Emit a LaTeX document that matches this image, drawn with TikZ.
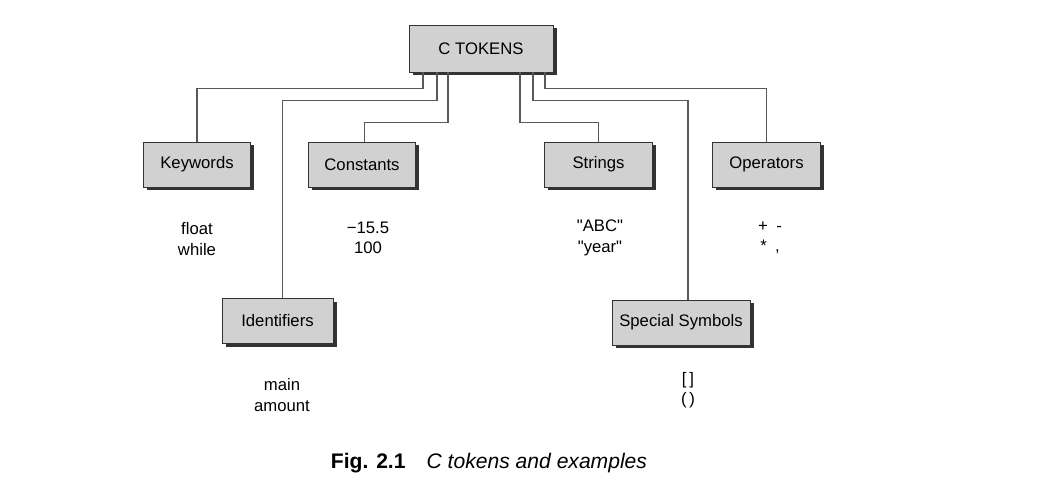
\documentclass[tikz,border=0pt]{standalone}
\usepackage{fontspec}
\setmainfont{Liberation Sans}
\usepackage{tikz}
\usetikzlibrary{shadows, positioning}
\newcommand{\dq}{\XeTeXglyph\XeTeXcharglyph"0022\relax}

\begin{document}
\begin{tikzpicture}[
  tokbox/.style={rectangle, draw=black!80, fill=black!18,
                 minimum width=2.15cm, minimum height=0.9cm,
                 font=\fontsize{9.5}{11}\selectfont,
                 drop shadow={shadow xshift=0.07cm, shadow yshift=-0.07cm,
                              fill=black!80, opacity=1}},
  example/.style={align=center, font=\fontsize{9.5}{11.5}\selectfont},
  link/.style={draw=black!65, line width=0.7pt}
]
  \useasboundingbox (0,0) rectangle (21.24,-10);

  \node[tokbox, minimum width=2.88cm, minimum height=0.94cm] (tok) at (9.62,-0.97) {C TOKENS};

  \node[tokbox] (kw)  at (3.94,-3.29) {Keywords};
  \node[tokbox] (con) at (7.24,-3.29) {Constants};
  \node[tokbox] (str) at (11.97,-3.29) {Strings};
  \node[tokbox] (op)  at (15.33,-3.29) {Operators};
  \node[tokbox, minimum width=2.22cm] (id)  at (5.55,-6.42) {Identifiers};
  \node[tokbox, minimum width=2.76cm] (sym) at (13.62,-6.45) {Special Symbols};

  \node[example] (kwex)  at (3.94,-4.78) {float\\while};
  \node[example] (conex) at (7.36,-4.76) {−15.5\\100};
  \node[example] (strex) at (12.0,-4.76) {\dq ABC\dq\\\dq year\dq};
  \node[example] (opex)  at (15.4,-4.76) {+\enspace -\\*\enspace ,};
  \node[example] (idex)  at (5.64,-7.9) {main\\amount};
  \node[example] (symex) at (13.76,-7.8) {[\,]\\(\,)};

  \draw[link] ([xshift=-1.16cm]tok.south) -- ++(0,-0.32) -| (kw.north);
  \draw[link] ([xshift=-0.88cm]tok.south) -- ++(0,-0.56) -| ([xshift=0.1cm]id.north);
  \draw[link] ([xshift=-0.66cm]tok.south) -- ++(0,-1.0) -| ([xshift=0.05cm]con.north);
  \draw[link] ([xshift=0.78cm]tok.south) -- ++(0,-1.0) -| (str.north);
  \draw[link] ([xshift=1.04cm]tok.south) -- ++(0,-0.56) -| ([xshift=0.14cm]sym.north);
  \draw[link] ([xshift=1.28cm]tok.south) -- ++(0,-0.32) -| (op.north);

  \node[font=\fontsize{12}{14}\selectfont] (cap) at (9.78,-9.26)
    {\textbf{Fig. 2.1}\quad\textit{C tokens and examples}};
\end{tikzpicture}
\end{document}
